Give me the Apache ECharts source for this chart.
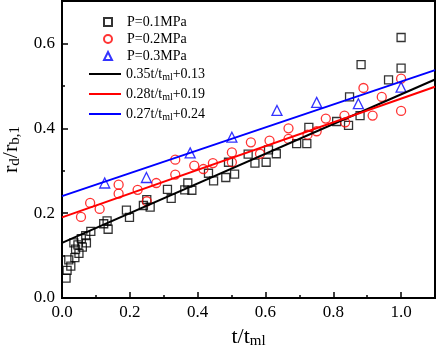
<!DOCTYPE html>
<html>
<head>
<meta charset="utf-8">
<script src="https://cdn.jsdelivr.net/npm/echarts@6/dist/echarts.min.js"></script>
<style>
html,body{margin:0;padding:0;background:#fff}
#ct1{width:436px;height:351px}
</style>
</head>
<body>
<div id="ct1"></div>
<script>
// measured points, [t/tml, rd/rb1]
var p01Data = [
	[0.012,0.047],[0.015,0.065],[0.026,0.075],[0.020,0.090],[0.038,0.095],
	[0.040,0.115],[0.050,0.105],[0.047,0.125],[0.035,0.130],[0.060,0.120],
	[0.057,0.140],[0.072,0.130],[0.070,0.147],[0.085,0.157],[0.123,0.175],
	[0.133,0.182],[0.136,0.162],[0.190,0.207],[0.199,0.190],[0.240,0.218],
	[0.250,0.232],[0.260,0.214],[0.311,0.256],[0.322,0.235],[0.362,0.255],
	[0.371,0.271],[0.383,0.254],[0.432,0.294],[0.447,0.276],[0.483,0.284],
	[0.491,0.320],[0.509,0.292],[0.549,0.339],[0.569,0.318],[0.602,0.320],
	[0.609,0.349],[0.632,0.340],[0.692,0.364],[0.722,0.364],[0.728,0.402],
	[0.810,0.416],[0.845,0.407],[0.848,0.474],[0.879,0.430],[0.882,0.550],
	[0.963,0.514],[1.000,0.542],[1.000,0.614]
];
var p02Data = [
	[0.056,0.191],[0.083,0.224],[0.111,0.210],[0.167,0.267],[0.167,0.246],
	[0.223,0.255],[0.250,0.228],[0.278,0.271],[0.334,0.326],[0.334,0.291],
	[0.390,0.312],[0.417,0.304],[0.445,0.318],[0.501,0.343],[0.501,0.320],
	[0.557,0.367],[0.584,0.340],[0.612,0.371],[0.668,0.400],[0.668,0.375],
	[0.724,0.385],[0.751,0.393],[0.778,0.423],[0.833,0.430],[0.835,0.414],
	[0.889,0.495],[0.916,0.430],[0.943,0.474],[1.000,0.517],[1.000,0.441]
];
var p03Data = [
	[0.126,0.271],[0.249,0.284],[0.378,0.342],[0.501,0.379],
	[0.634,0.442],[0.751,0.461],[0.874,0.458],[1.000,0.497]
];
// fitted lines, end points at t/tml = 0 and 1.1
var fit01 = [[0,0.13],[1.1,0.515]];
var fit02 = [[0,0.19],[1.1,0.498]];
var fit03 = [[0,0.24],[1.1,0.537]];
var seriesNames = ['P=0.1MPa','P=0.2MPa','P=0.3MPa'];
var fitNames = ['0.35t/t_ml+0.13','0.28t/t_ml+0.19','0.27t/t_ml+0.24'];

var font = 'Liberation Serif';
var myChart1;

function axisBase(min, max, interval, pos) {
	return {
		type : 'value',
		min : min,
		max : max,
		interval : interval,
		position : pos,
		axisLine : {show : false},
		axisTick : {show : true, inside : true, length : 3, lineStyle : {color : '#000', width : 1.5}},
		axisLabel : {show : false},
		splitLine : {show : false}
	};
}

function initMyChar1() {
	myChart1 = echarts.init(document.getElementById('ct1'));

	var xMinor = axisBase(0, 1.1, 0.1, 'bottom');
	var xMajor = axisBase(0, 1.1, 0.2, 'bottom');
	xMajor.axisTick.length = 6;
	xMajor.axisLabel = {
		show : true, color : '#000', fontFamily : font, fontSize : 17, margin : 6,
		showMaxLabel : false,
		formatter : function(v) { return v.toFixed(1); }
	};
	xMajor.name = '{a|t/t}{s|ml}';
	xMajor.nameLocation = 'middle';
	xMajor.nameGap = 25;
	xMajor.nameTextStyle = {
		color : '#000', fontFamily : font,
		rich : {
			a : {fontFamily : font, fontSize : 22, lineHeight : 24, color : '#000'},
			s : {fontFamily : font, fontSize : 15, lineHeight : 14, verticalAlign : 'bottom', color : '#000'}
		}
	};

	var yMinor = axisBase(0, 0.7, 0.1, 'left');
	var yMajor = axisBase(0, 0.7, 0.2, 'left');
	yMajor.axisTick.length = 6;
	yMajor.axisLabel = {
		show : true, color : '#000', fontFamily : font, fontSize : 17, margin : 7,
		showMaxLabel : false,
		formatter : function(v) { return v.toFixed(1); }
	};
	yMajor.name = '{a|r}{s|d}{a|/r}{s|b,1}';
	yMajor.nameLocation = 'middle';
	yMajor.nameRotate = 90;
	yMajor.nameGap = 38;
	yMajor.nameTextStyle = xMajor.nameTextStyle;

	var scatterStyle = function(name, data, symbol, size, color) {
		return {
			name : name, type : 'scatter', data : data,
			symbol : symbol, symbolSize : size,
			xAxisIndex : 0, yAxisIndex : 0,
			itemStyle : {color : 'rgba(0,0,0,0)', borderColor : color, borderWidth : 1.3}
		};
	};
	var lineStyle = function(name, data, color) {
		return {
			name : name, type : 'line', data : data,
			symbol : 'none', showSymbol : false,
			xAxisIndex : 0, yAxisIndex : 0,
			lineStyle : {color : color, width : 2},
			itemStyle : {color : color}
		};
	};

	var option1 = {
		animation : false,
		backgroundColor : '#fff',
		grid : {
			left : 62, right : 1, top : 1, bottom : 53,
			outerBoundsMode : 'none', containLabel : false,
			show : true, borderColor : '#000', borderWidth : 2
		},
		xAxis : [xMinor, xMajor],
		yAxis : [yMinor, yMajor],
		legend : [{
			data : seriesNames,
			orient : 'vertical', left : 103, top : 14, padding : 0,
			itemWidth : 8, itemHeight : 8, itemGap : 1,
			selectedMode : false,
			textStyle : {fontFamily : font, fontSize : 14, lineHeight : 16, color : '#000', padding : [0, 0, 0, 10]}
		}, {
			data : fitNames,
			orient : 'vertical', left : 89, top : 66, padding : 0,
			icon : 'rect',
			itemWidth : 32, itemHeight : 2, itemGap : 4,
			selectedMode : false,
			formatter : function(n) { return n.replace('_ml', '{s|ml}'); },
			textStyle : {
				fontFamily : font, fontSize : 14, lineHeight : 16, color : '#000',
				rich : {s : {fontFamily : font, fontSize : 10, lineHeight : 8, verticalAlign : 'bottom', color : '#000'}}
			}
		}],
		series : [
			scatterStyle(seriesNames[0], p01Data, 'rect', 8, '#000'),
			scatterStyle(seriesNames[1], p02Data, 'circle', 9, '#ff0000'),
			scatterStyle(seriesNames[2], p03Data, 'triangle', 10, '#0000ff'),
			lineStyle(fitNames[0], fit01, '#000'),
			lineStyle(fitNames[1], fit02, '#ff0000'),
			lineStyle(fitNames[2], fit03, '#0000ff')
		]
	};
	myChart1.setOption(option1, true);
}

initMyChar1();
</script>
</body>
</html>
